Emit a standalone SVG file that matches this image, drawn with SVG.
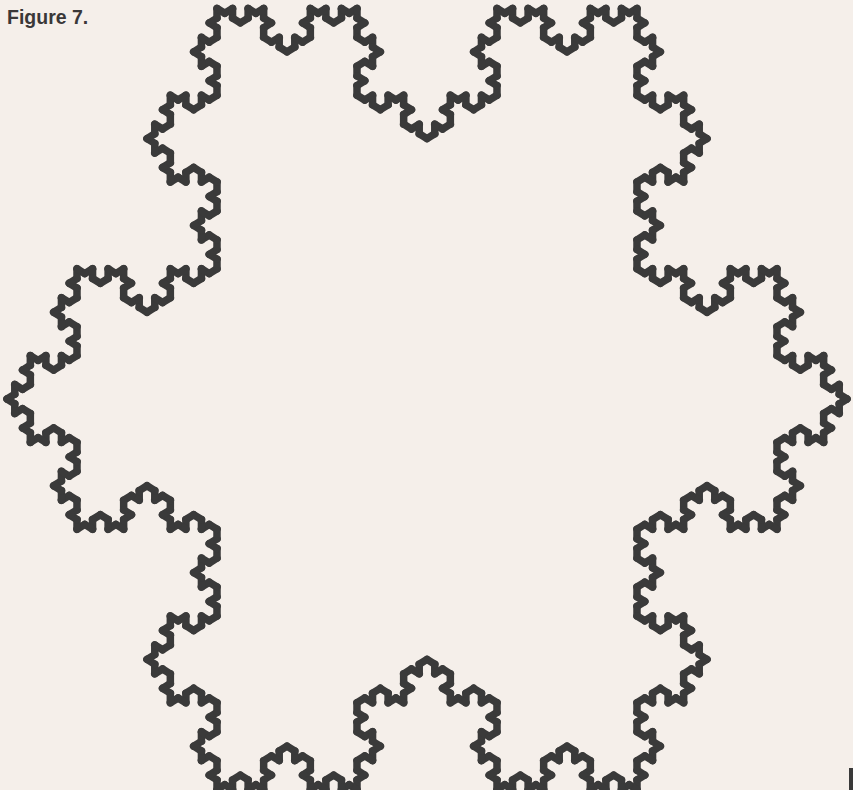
<svg xmlns="http://www.w3.org/2000/svg" xmlns:xlink="http://www.w3.org/1999/xlink" width="853" height="790" viewBox="0 0 853 790">
  <style>
    .seg { stroke: #3a3a3a; stroke-width: 7.5; stroke-linecap: round; fill: none; vector-effect: non-scaling-stroke; }
    .caption { font-family: "Liberation Sans", Arial, sans-serif; font-weight: bold; font-size: 19.5px; fill: #3a3838; }
  </style>
  <defs>
    <line id="k0" class="seg" x1="0" y1="0" x2="1" y2="0" vector-effect="non-scaling-stroke"/>
    <g id="k1">
      <use href="#k0" xlink:href="#k0" transform="scale(0.3333333)"/>
      <use href="#k0" xlink:href="#k0" transform="translate(0.3333333,0) rotate(-60) scale(0.3333333)"/>
      <use href="#k0" xlink:href="#k0" transform="translate(0.5,-0.2886751) rotate(60) scale(0.3333333)"/>
      <use href="#k0" xlink:href="#k0" transform="translate(0.6666667,0) scale(0.3333333)"/>
    </g>
    <g id="k2">
      <use href="#k1" xlink:href="#k1" transform="scale(0.3333333)"/>
      <use href="#k1" xlink:href="#k1" transform="translate(0.3333333,0) rotate(-60) scale(0.3333333)"/>
      <use href="#k1" xlink:href="#k1" transform="translate(0.5,-0.2886751) rotate(60) scale(0.3333333)"/>
      <use href="#k1" xlink:href="#k1" transform="translate(0.6666667,0) scale(0.3333333)"/>
    </g>
    <g id="k3">
      <use href="#k2" xlink:href="#k2" transform="scale(0.3333333)"/>
      <use href="#k2" xlink:href="#k2" transform="translate(0.3333333,0) rotate(-60) scale(0.3333333)"/>
      <use href="#k2" xlink:href="#k2" transform="translate(0.5,-0.2886751) rotate(60) scale(0.3333333)"/>
      <use href="#k2" xlink:href="#k2" transform="translate(0.6666667,0) scale(0.3333333)"/>
    </g>
    <g id="k4">
      <use href="#k3" xlink:href="#k3" transform="scale(0.3333333)"/>
      <use href="#k3" xlink:href="#k3" transform="translate(0.3333333,0) rotate(-60) scale(0.3333333)"/>
      <use href="#k3" xlink:href="#k3" transform="translate(0.5,-0.2886751) rotate(60) scale(0.3333333)"/>
      <use href="#k3" xlink:href="#k3" transform="translate(0.6666667,0) scale(0.3333333)"/>
    </g>
  </defs>
  <rect x="0" y="0" width="853" height="790" fill="#f5efea"/>
  <text class="caption" x="7" y="24">Figure 7.</text>
  <g id="snowflake" transform="matrix(420,0,0,451,427,399)">
    <use href="#k4" xlink:href="#k4" transform="translate(1,0) rotate(150) scale(1.7320508)"/>
    <use href="#k4" xlink:href="#k4" transform="translate(-0.5,0.8660254) rotate(-90) scale(1.7320508)"/>
    <use href="#k4" xlink:href="#k4" transform="translate(-0.5,-0.8660254) rotate(30) scale(1.7320508)"/>
  </g>
  <rect x="849" y="768" width="4" height="22" fill="#3a3a3a"/>
</svg>
